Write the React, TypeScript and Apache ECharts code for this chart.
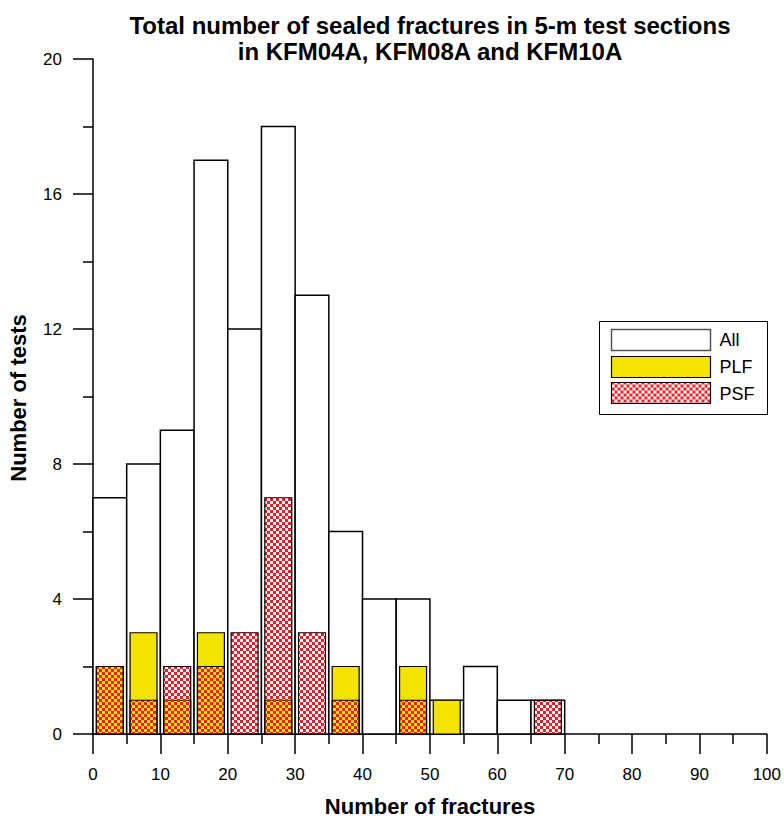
import React, { useEffect, useRef } from "react";
import * as echarts from "echarts";

const binStarts = [0, 5, 10, 15, 20, 25, 30, 35, 40, 45, 50, 55, 60, 65];
const binWidth = 5;
const allCounts = [7, 8, 9, 17, 12, 18, 13, 6, 4, 4, 1, 2, 1, 1];
const plfCounts = [2, 3, 1, 3, 0, 1, 0, 2, 0, 2, 1, 0, 0, 0];
const psfCounts = [2, 1, 2, 2, 3, 7, 3, 1, 0, 1, 0, 0, 0, 1];
const legendNames = ["All", "PLF", "PSF"];
const titleText = "Total number of sealed fractures in 5-m test sections\nin KFM04A, KFM08A and KFM10A";
const xName = "Number of fractures";
const yName = "Number of tests";

const YELLOW = "#f2e400";
const RED = "#ee1c24";

function makePattern(bg: string | null) {
  const c = document.createElement("canvas");
  c.width = 6;
  c.height = 6;
  const ctx = c.getContext("2d")!;
  ctx.clearRect(0, 0, 6, 6);
  if (bg) {
    ctx.fillStyle = bg;
    ctx.fillRect(0, 0, 6, 6);
  }
  ctx.fillStyle = RED;
  ctx.fillRect(0, 0, 3, 3);
  ctx.fillRect(3, 3, 3, 3);
  return { image: c.toDataURL(), repeat: "repeat", imageWidth: 6, imageHeight: 6 } as any;
}

export default function App() {
  const ref = useRef<HTMLDivElement>(null);
  useEffect(() => {
    if (!ref.current) return;
    const chart = echarts.init(ref.current, null, { renderer: "svg" });
    const pattern = makePattern(null);
    const patternWhite = makePattern("#ffffff");
    const inset = 0.5;

    const makeSeries = (name: string, counts: number[], inner: boolean, fill: any, z: number) => ({
      type: "custom",
      name,
      z,
      data: binStarts.map((s, i) => [s, counts[i]]).filter((d) => d[1] > 0),
      encode: { x: 0, y: 1 },
      renderItem: (params: any, api: any) => {
        const s = api.value(0);
        const v = api.value(1);
        const x0 = inner ? s + inset : s;
        const x1 = inner ? s + binWidth - inset : s + binWidth;
        const p0 = api.coord([x0, 0]);
        const p1 = api.coord([x1, v]);
        return {
          type: "rect",
          shape: { x: p0[0], y: p1[1], width: p1[0] - p0[0], height: p0[1] - p1[1] },
          style: {
            fill,
            stroke: "#000",
            lineWidth: inner ? 1.2 : 1.5,
          },
        };
      },
    });

    chart.setOption({
      animation: false,
      backgroundColor: "#fff",
      title: {
        text: titleText,
        left: 425,
        top: 7,
        textAlign: "center",
        textStyle: {
          fontFamily: "Liberation Sans",
          fontSize: 24,
          fontWeight: "bold",
          color: "#000",
          lineHeight: 26,
        },
      },
      grid: { left: 93, right: 15, top: 59, bottom: 87 },
      xAxis: {
        type: "value",
        min: 0,
        max: 100,
        interval: 10,
        axisLine: { show: true, lineStyle: { color: "#000", width: 1.5 } },
        axisTick: { show: true, inside: false, length: 20, lineStyle: { color: "#000", width: 1.5 } },
        minorTick: { show: true, splitNumber: 2, length: 10, lineStyle: { color: "#000", width: 1.5 } },
        splitLine: { show: false },
        minorSplitLine: { show: false },
        axisLabel: { margin: 32, fontFamily: "Liberation Sans", fontSize: 17, color: "#000" },
      },
      yAxis: {
        type: "value",
        min: 0,
        max: 20,
        interval: 4,
        axisLine: { show: true, lineStyle: { color: "#000", width: 1.5 } },
        axisTick: { show: true, inside: false, length: 20, lineStyle: { color: "#000", width: 1.5 } },
        minorTick: { show: true, splitNumber: 2, length: 10, lineStyle: { color: "#000", width: 1.5 } },
        splitLine: { show: false },
        axisLabel: { margin: 31, fontFamily: "Liberation Sans", fontSize: 17, color: "#000" },
      },
      series: [
        makeSeries("All", allCounts, false, "#fff", 2),
        makeSeries("PLF", plfCounts, true, YELLOW, 3),
        makeSeries("PSF", psfCounts, true, pattern, 4),
      ],
      graphic: [
        {
          type: "text",
          x: 430,
          y: 806,
          style: {
            text: xName,
            fontFamily: "Liberation Sans",
            fontSize: 22,
            fontWeight: "bold",
            fill: "#000",
            textAlign: "center",
            textVerticalAlign: "middle",
          },
        },
        {
          type: "text",
          x: 18,
          y: 398,
          rotation: Math.PI / 2,
          style: {
            text: yName,
            fontFamily: "Liberation Sans",
            fontSize: 22,
            fontWeight: "bold",
            fill: "#000",
            textAlign: "center",
            textVerticalAlign: "middle",
          },
        },
        {
          type: "group",
          left: 599,
          top: 321,
          children: [
            { type: "rect", shape: { x: 0, y: 0, width: 168, height: 93 }, style: { fill: "#fff", stroke: "#000", lineWidth: 1 } },
            { type: "rect", shape: { x: 12, y: 8, width: 99, height: 21 }, style: { fill: "#fff", stroke: "#555", lineWidth: 1.5 } },
            { type: "rect", shape: { x: 12, y: 35, width: 99, height: 21 }, style: { fill: YELLOW, stroke: "#000", lineWidth: 1.2 } },
            { type: "rect", shape: { x: 12, y: 61, width: 99, height: 21 }, style: { fill: patternWhite, stroke: "#000", lineWidth: 1.2 } },
            ...legendNames.map((n, i) => ({
              type: "text",
              x: 120,
              y: [18, 45, 72][i],
              style: {
                text: n,
                fontFamily: "Liberation Sans",
                fontSize: 18,
                fill: "#000",
                textAlign: "left",
                textVerticalAlign: "middle",
              },
            })),
          ],
        },
      ],
    });
    return () => chart.dispose();
  }, []);
  return <div ref={ref} style={{ width: 784, height: 821, position: "absolute", left: 0, top: 0 }} />;
}
